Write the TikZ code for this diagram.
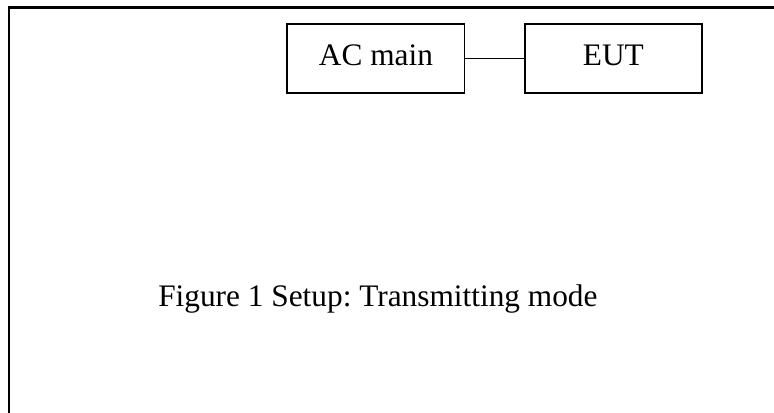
\documentclass[tikz,border=0pt]{standalone}
\usepackage{fontspec}
\setmainfont{Liberation Serif}
\frenchspacing
\begin{document}
\begin{tikzpicture}[x=0.75pt,y=-0.75pt,
  boxnode/.style={draw,line width=1.3pt,minimum width=177.2*0.75pt,minimum height=68.7*0.75pt,inner sep=0pt,
    text height=16pt,text depth=6.1pt,font=\fontsize{23.5}{28}\selectfont},
  frameline/.style={line width=1.8pt},
  captext/.style={anchor=base west,inner sep=0pt,font=\fontsize{23.5}{28}\selectfont}]
\useasboundingbox (0,0) rectangle (774,412);
\coordinate (tl) at (9,7.5);
\coordinate (tr) at (775,7.5);
\coordinate (bl) at (9,413);
\draw[frameline] (tr) -- (tl) -- (bl);
\node[boxnode] (ac) at (375.9,58.4) {AC main};
\node[boxnode] (eut) at (613.4,58.4) {EUT};
\draw[line width=1.3pt] (ac.east) -- (eut.west);
\node[captext] (cap) at (158,306.7) {Figure 1 Setup: Transmitting mode};
\end{tikzpicture}
\end{document}
